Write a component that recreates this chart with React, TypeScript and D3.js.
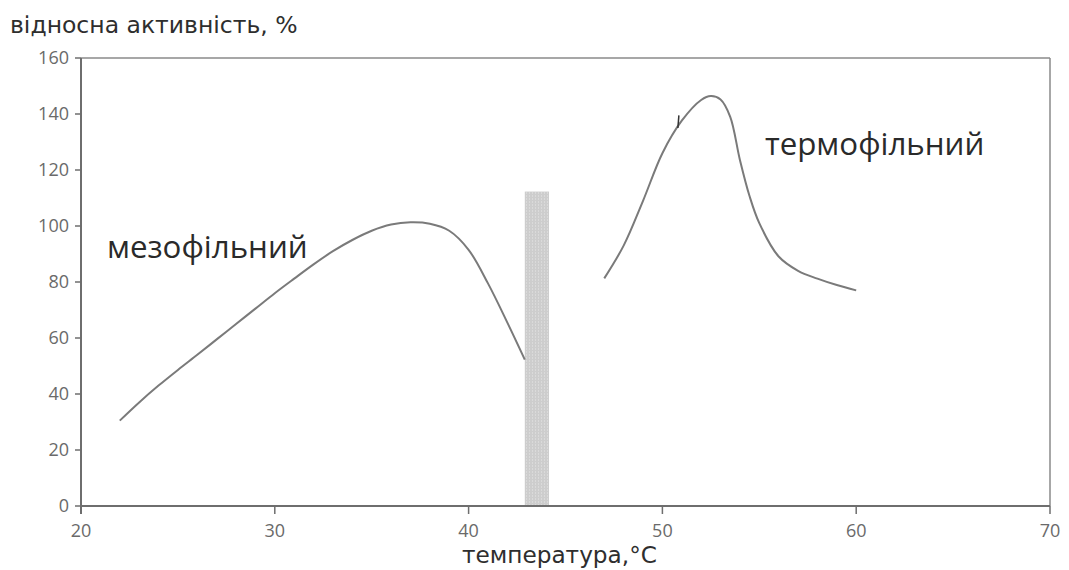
import * as d3 from "d3";

// temperature (°C) vs relative activity (%)
const mesoTemp = [22, 23, 24, 25, 26, 27, 28, 29, 30, 31, 32, 33, 34, 35, 36, 37, 38, 39, 40, 41, 42, 42.9];
const mesoActivity = [30.5, 37, 43, 48.6, 54, 59.5, 65, 70.5, 76, 81.2, 86.3, 91, 95, 98.3, 100.5, 101.3, 100.8, 98.3, 91.5, 79.5, 65.5, 52.3];

const thermoTemp = [47, 48, 49, 50, 51, 52, 52.5, 53, 53.5, 54, 54.5, 55, 56, 57, 58, 59, 60];
const thermoActivity = [81.3, 93, 109, 126, 137.6, 145, 146.4, 145.2, 139, 123.6, 110.6, 101, 89.1, 84, 81.2, 78.9, 77];

// shaded gap between the two groups
const gapTemp = [42.9, 44.15];
const gapHeight = 112.3;

const xTicks = [20, 30, 40, 50, 60, 70];
const yTicks = [0, 20, 40, 60, 80, 100, 120, 140, 160];

const labels = [
  { text: "мезофільний", t: 21.34, v: 88.5 },
  { text: "термофільний", t: 55.29, v: 125.4 },
];

export default function App() {
  const width = 1069;
  const height = 570;
  const left = 81, right = 1050, top = 58, bottom = 506;

  const x = d3.scaleLinear().domain([20, 70]).range([left, right]);
  const y = d3.scaleLinear().domain([0, 160]).range([bottom, top]);

  const line = d3
    .line<[number, number]>()
    .x(d => x(d[0]))
    .y(d => y(d[1]))
    .curve(d3.curveCatmullRom.alpha(0.5));

  const meso = mesoTemp.map((t, i) => [t, mesoActivity[i]] as [number, number]);
  const thermo = thermoTemp.map((t, i) => [t, thermoActivity[i]] as [number, number]);

  const axisColor = "#6e6e6e";
  const tickText = "#6a6a6a";
  const font = "'Open Sans', 'DejaVu Sans', sans-serif";
  const wide = "'DejaVu Sans', sans-serif";

  return (
    <svg
      width={width}
      height={height}
      style={{ position: "absolute", left: 0, top: 0, background: "#fff" }}
    >
      <defs>
        <pattern id="grain" width="3" height="3" patternUnits="userSpaceOnUse">
          <rect width="3" height="3" fill="#cdcdcd" />
          <rect x="1" y="0" width="1" height="2" fill="#dadada" />
        </pattern>
      </defs>

      {/* frame */}
      <line x1={left} x2={right} y1={top} y2={top} stroke="#8a8a8a" strokeWidth={1.5} />
      <line x1={right} x2={right} y1={top} y2={bottom} stroke="#8a8a8a" strokeWidth={1.5} />

      {/* gap bar */}
      <rect
        x={x(gapTemp[0])}
        width={x(gapTemp[1]) - x(gapTemp[0])}
        y={y(gapHeight)}
        height={y(0) - y(gapHeight)}
        fill="url(#grain)"
      />

      {/* axes */}
      <line x1={left} x2={left} y1={top} y2={bottom + 8} stroke={axisColor} strokeWidth={2} />
      <line x1={left} x2={right} y1={bottom} y2={bottom} stroke={axisColor} strokeWidth={2} />

      {yTicks.map(t => (
        <g key={"y" + t}>
          <line x1={left - 6} x2={left} y1={y(t)} y2={y(t)} stroke={axisColor} strokeWidth={1.5} />
          <text
            x={left - 12}
            y={y(t)}
            dy="0.35em"
            textAnchor="end"
            fontFamily={font}
            fontSize={18}
            fill={tickText}
          >
            {t}
          </text>
        </g>
      ))}

      {xTicks.map(t => (
        <g key={"x" + t}>
          <line x1={x(t)} x2={x(t)} y1={bottom} y2={bottom + 8} stroke={axisColor} strokeWidth={1.5} />
          <text
            x={x(t)}
            y={bottom + 31}
            textAnchor="middle"
            fontFamily={font}
            fontSize={18}
            fill={tickText}
          >
            {t}
          </text>
        </g>
      ))}

      {/* curves */}
      <path d={line(meso) ?? ""} fill="none" stroke="#7a7a7a" strokeWidth={2} />
      <path d={line(thermo) ?? ""} fill="none" stroke="#7a7a7a" strokeWidth={2} />
      {/* small scan mark on the thermophilic curve */}
      <line x1={x(50.85)} x2={x(50.8)} y1={y(139.5)} y2={y(135)} stroke="#333" strokeWidth={1.5} />

      {labels.map(l => (
        <text
          key={l.text}
          x={x(l.t)}
          y={y(l.v)}
          fontFamily={font}
          fontSize={31.3}
          fill="#2a2a2a"
        >
          {l.text}
        </text>
      ))}

      <text x={10} y={33} fontFamily={wide} fontSize={23.5} fill="#2e2e2e">
        відносна активність, %
      </text>
      <text x={462} y={563} fontFamily={wide} fontSize={23.2} fill="#2e2e2e">
        температура,°C
      </text>
    </svg>
  );
}
